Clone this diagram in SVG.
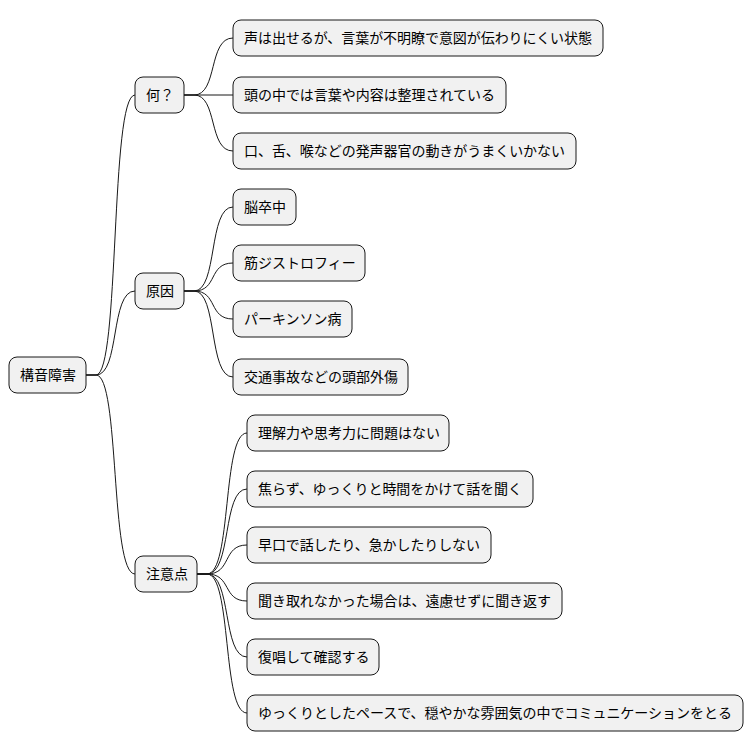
<svg xmlns="http://www.w3.org/2000/svg" width="754" height="752" viewBox="0 0 754 752">
<style>
.n rect{fill:#f1f1f1;stroke:#181818;stroke-width:1}
.n text{font-family:"Liberation Sans","Noto Sans CJK JP",sans-serif;font-size:14px;fill:#000}
.c path{fill:none;stroke:#181818;stroke-width:1}
</style>
<rect width="754" height="752" fill="#fff"/>
<g class="c">
<path d="M86,375 L96,375 C120,375 110,95 135,95"/>
<path d="M86,375 L96,375 C120,375 110,291 135,291"/>
<path d="M86,375 L96,375 C120,375 110,574 135,574"/>
<path d="M184,95 L194,95 C218,95 208,38 233,38"/>
<path d="M184,95 L233,95"/>
<path d="M184,95 L194,95 C218,95 208,151 233,151"/>
<path d="M184,291 L194,291 C218,291 208,207 233,207"/>
<path d="M184,291 L194,291 C218,291 208,263 233,263"/>
<path d="M184,291 L194,291 C218,291 208,319 233,319"/>
<path d="M184,291 L194,291 C218,291 208,377 233,377"/>
<path d="M197,574 L207,574 C232,574 222,433 247,433"/>
<path d="M197,574 L207,574 C232,574 222,489 247,489"/>
<path d="M197,574 L207,574 C232,574 222,545 247,545"/>
<path d="M197,574 L207,574 C232,574 222,601 247,601"/>
<path d="M197,574 L207,574 C232,574 222,657 247,657"/>
<path d="M197,574 L207,574 C232,574 222,713 247,713"/>
</g>
<g id="root" class="n"><rect x="9" y="357" width="77" height="36" rx="8"/><text x="20" y="380">構音障害</text></g>
<g id="n1" class="n"><rect x="135" y="77" width="49" height="36" rx="8"/><text x="146" y="100">何？</text></g>
<g id="n2" class="n"><rect x="135" y="273" width="49" height="36" rx="8"/><text x="146" y="296">原因</text></g>
<g id="n3" class="n"><rect x="135" y="556" width="62" height="36" rx="8"/><text x="146" y="579">注意点</text></g>
<g id="n1a" class="n"><rect x="233" y="20" width="370" height="36" rx="8"/><text x="244" y="43" textLength="348">声は出せるが、言葉が不明瞭で意図が伝わりにくい状態</text></g>
<g id="n1b" class="n"><rect x="233" y="77" width="273" height="36" rx="8"/><text x="244" y="100" textLength="251">頭の中では言葉や内容は整理されている</text></g>
<g id="n1c" class="n"><rect x="233" y="133" width="343" height="36" rx="8"/><text x="244" y="156" textLength="321">口、舌、喉などの発声器官の動きがうまくいかない</text></g>
<g id="n2a" class="n"><rect x="233" y="189" width="63" height="36" rx="8"/><text x="244" y="212">脳卒中</text></g>
<g id="n2b" class="n"><rect x="233" y="245" width="132" height="36" rx="8"/><text x="244" y="268">筋ジストロフィー</text></g>
<g id="n2c" class="n"><rect x="233" y="301" width="119" height="36" rx="8"/><text x="244" y="324">パーキンソン病</text></g>
<g id="n2d" class="n"><rect x="233" y="359" width="175" height="36" rx="8"/><text x="244" y="382">交通事故などの頭部外傷</text></g>
<g id="n3a" class="n"><rect x="247" y="415" width="202" height="36" rx="8"/><text x="258" y="438">理解力や思考力に問題はない</text></g>
<g id="n3b" class="n"><rect x="247" y="471" width="286" height="36" rx="8"/><text x="258" y="494" textLength="264">焦らず、ゆっくりと時間をかけて話を聞く</text></g>
<g id="n3c" class="n"><rect x="247" y="527" width="244" height="36" rx="8"/><text x="258" y="550" textLength="222">早口で話したり、急かしたりしない</text></g>
<g id="n3d" class="n"><rect x="247" y="583" width="315" height="36" rx="8"/><text x="258" y="606" textLength="293">聞き取れなかった場合は、遠慮せずに聞き返す</text></g>
<g id="n3e" class="n"><rect x="247" y="639" width="132" height="36" rx="8"/><text x="258" y="662">復唱して確認する</text></g>
<g id="n3f" class="n"><rect x="247" y="695" width="496" height="36" rx="8"/><text x="258" y="718" textLength="474">ゆっくりとしたペースで、穏やかな雰囲気の中でコミュニケーションをとる</text></g>
</svg>
